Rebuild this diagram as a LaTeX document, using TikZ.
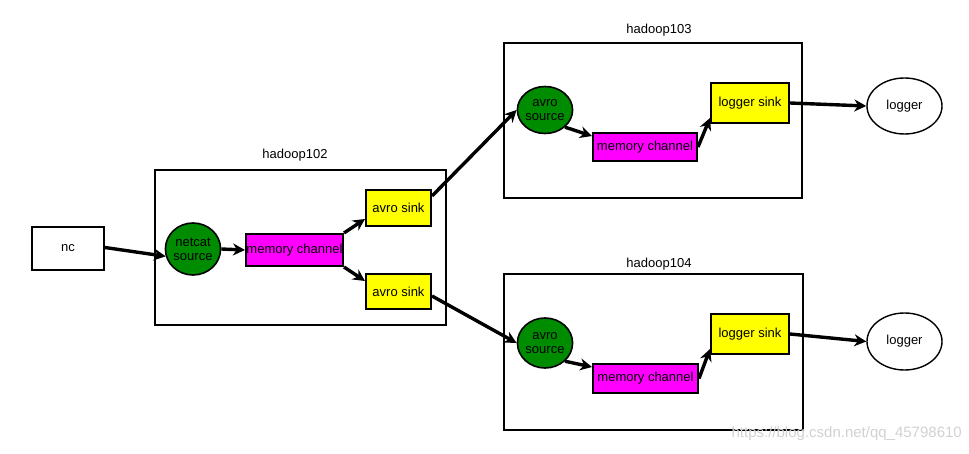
\documentclass[tikz,border=0pt]{standalone}
\usepackage{fontspec}
\setmainfont{Liberation Sans}
\usetikzlibrary{shapes.geometric,arrows.meta}
\definecolor{srcgreen}{RGB}{0,140,0}
\definecolor{chmag}{RGB}{255,0,255}
\definecolor{sinkyel}{RGB}{255,255,0}
\tikzset{
  every node/.style={font=\fontsize{13}{14}\selectfont, inner sep=0pt},
  frame/.style={draw, line width=2pt},
  plainbox/.style={draw, line width=2pt, fill=white},
  srcnode/.style={draw, line width=1.6pt, fill=srcgreen, ellipse, align=center},
  chnode/.style={draw, line width=2pt, fill=chmag},
  sinknode/.style={draw, line width=2pt, fill=sinkyel},
  endnode/.style={draw, line width=1.4pt, ellipse, fill=white},
  flow/.style={line width=3.4pt, -{Stealth[length=12pt,width=12pt]}},
}
\begin{document}
\begin{tikzpicture}[x=1pt,y=-1pt]
\useasboundingbox (0,0) rectangle (969,454);
% frames
\node[frame, minimum width=291pt, minimum height=155pt] (h102) at (300.5,247.5) {};
\node[frame, minimum width=298pt, minimum height=155pt] (h103) at (653,120.5) {};
\node[frame, minimum width=299pt, minimum height=156pt] (h104) at (653.5,352) {};
\node (l102) at (295,155) {hadoop102};
\node (l103) at (659,30) {hadoop103};
\node (l104) at (659,264) {hadoop104};
% hadoop102
\node[plainbox, minimum width=72pt, minimum height=43pt] (nc) at (68,248.5) {nc};
\node[srcnode, minimum width=54pt, minimum height=52pt] (ns) at (193,249) {netcat\\source};
\node[chnode, minimum width=97pt, minimum height=32pt] (mc2) at (294.5,250) {memory channel};
\node[sinknode, minimum width=65pt, minimum height=36pt] (as1) at (398.5,208) {avro sink};
\node[sinknode, minimum width=65pt, minimum height=35pt] (as2) at (398.5,291.5) {avro sink};
% hadoop103
\node[srcnode, minimum width=54pt, minimum height=47pt] (av3) at (545,110) {avro\\source};
\node[chnode, minimum width=104pt, minimum height=28pt] (mc3) at (645,147) {memory channel};
\node[sinknode, minimum width=78pt, minimum height=40pt] (ls3) at (750,103) {logger sink};
\node[endnode, minimum width=75pt, minimum height=56pt] (lg3) at (904.5,106) {logger};
% hadoop104
\node[srcnode, minimum width=54pt, minimum height=50pt] (av4) at (545,343) {avro\\source};
\node[chnode, minimum width=105pt, minimum height=29pt] (mc4) at (645.5,378.5) {memory channel};
\node[sinknode, minimum width=78pt, minimum height=40pt] (ls4) at (750,334) {logger sink};
\node[endnode, minimum width=75pt, minimum height=57pt] (lg4) at (904.5,341.5) {logger};
% connectors
\draw[flow] ([yshift=1pt]nc.east) -- (ns.195);
\draw[flow] (ns.east) -- (mc2.west);
\draw[flow] (mc2.north east) -- ([yshift=8pt]as1.south west);
\draw[flow] (mc2.south east) -- ([yshift=-8pt]as2.north west);
\draw[flow] ([yshift=-7pt]as1.north east) -- (av3.west);
\draw[flow] ([yshift=14pt]as2.south east) -- (av4.west);
\draw[flow] (av3.south east) -- ([yshift=-4pt]mc3.north west);
\draw[flow] (mc3.east) -- ([yshift=6pt]ls3.south west);
\draw[flow] (ls3.east) -- (lg3.west);
\draw[flow] (av4.south east) -- ([yshift=-4pt]mc4.north west);
\draw[flow] (mc4.east) -- ([yshift=6pt]ls4.south west);
\draw[flow] (ls4.east) -- (lg4.west);
% watermark
\node[text=black!18, font=\fontsize{15}{16}\selectfont, anchor=east] (wm) at (962,434) {https://blog.csdn.net/qq\_45798610};
\end{tikzpicture}
\end{document}
